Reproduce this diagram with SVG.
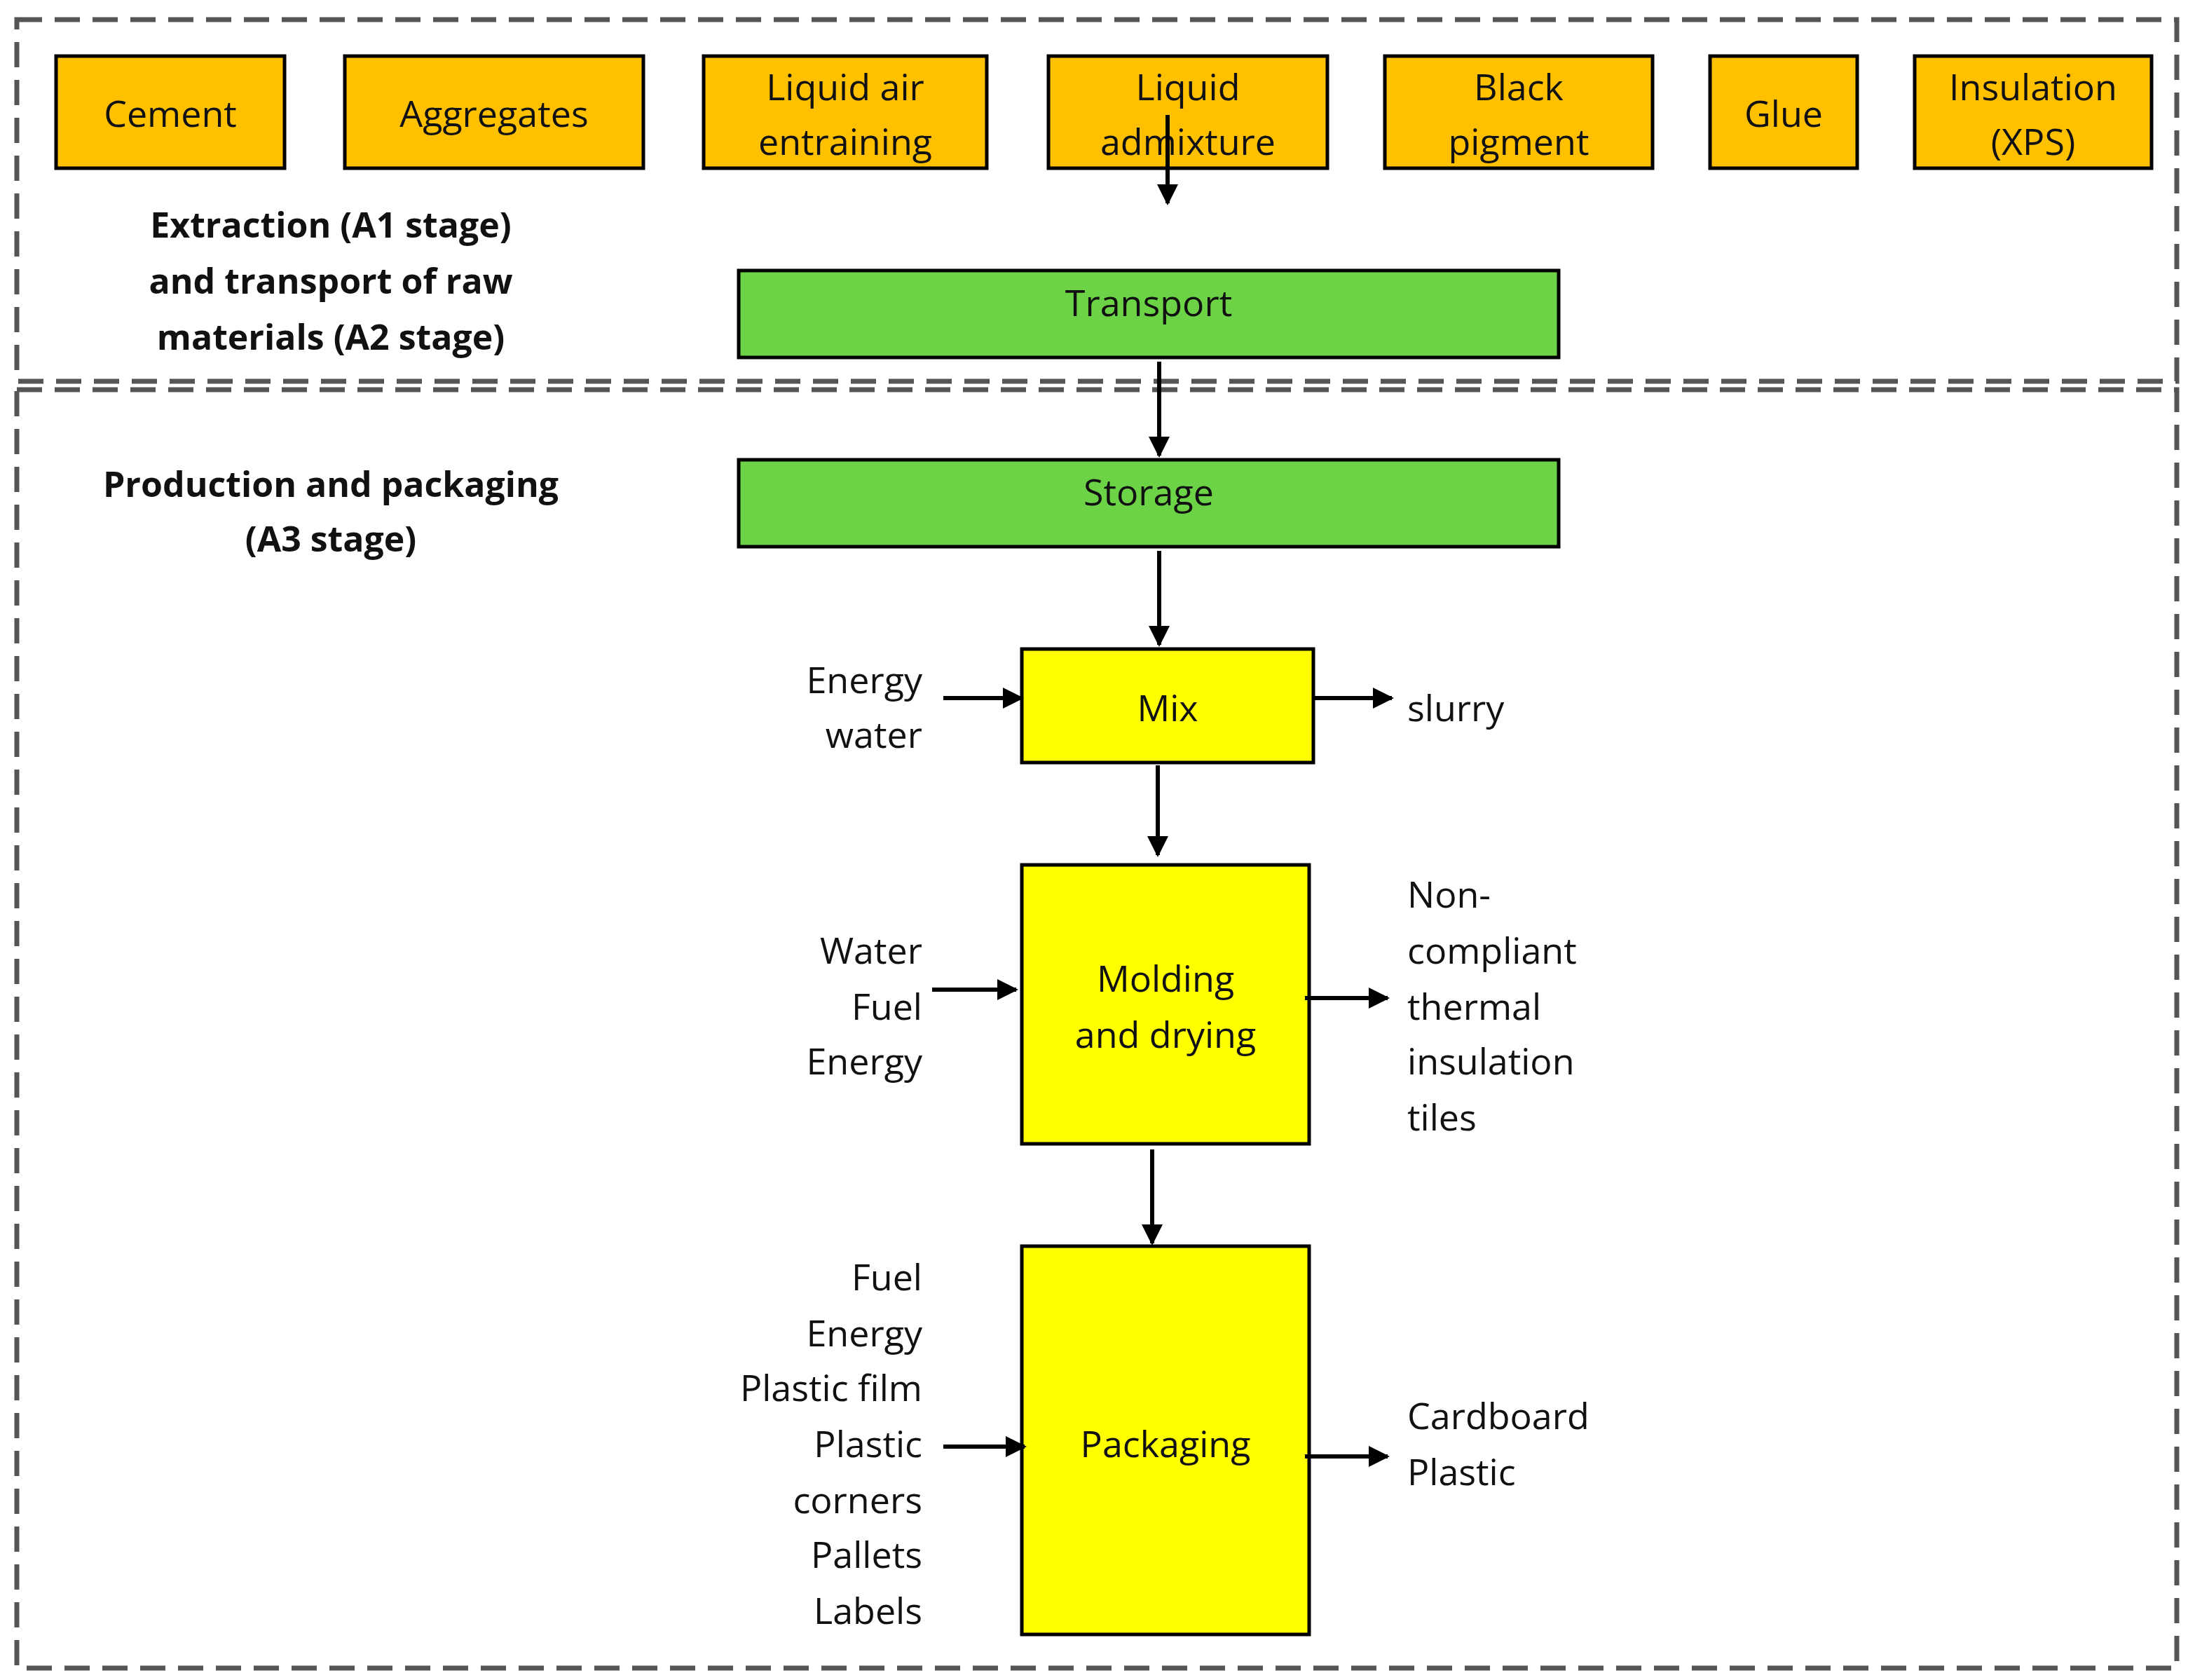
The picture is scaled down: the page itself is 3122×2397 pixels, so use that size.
<svg xmlns="http://www.w3.org/2000/svg" width="3122" height="2397" viewBox="0 0 3122 2397">
<style>
.t{font-family:"Open Sans","Liberation Sans",sans-serif;font-size:52px;fill:#111;dominant-baseline:central}
.b{font-weight:bold;font-size:50px}
.m{text-anchor:middle}.r{text-anchor:end}
.o{fill:#FFC000;stroke:#000;stroke-width:5}
.g{fill:#6CD246;stroke:#000;stroke-width:5}
.y{fill:#FFFF00;stroke:#000;stroke-width:5}
.d{fill:none;stroke:#555;stroke-width:7;stroke-dasharray:36 18}
.a{stroke:#000;stroke-width:6;marker-end:url(#ah)}
</style>
<defs><marker id="ah" viewBox="0 0 10 10" refX="9" refY="5" markerWidth="5" markerHeight="5" orient="auto" markerUnits="strokeWidth"><path d="M0,0L10,5L0,10z" fill="#000"/></marker></defs>
<rect width="3122" height="2397" fill="#fff"/>
<rect class="d" x="24" y="28" width="3082" height="516"/>
<rect class="d" x="24" y="556" width="3082" height="1824"/>
<g id="cement"><rect class="o" x="80" y="80" width="326" height="160"/><text class="t m" x="243" y="160">Cement</text></g>
<g id="aggregates"><rect class="o" x="492" y="80" width="426" height="160"/><text class="t m" x="705" y="160">Aggregates</text></g>
<g id="air"><rect class="o" x="1004" y="80" width="404" height="160"/><text class="t m" x="1206" y="122">Liquid air</text><text class="t m" x="1206" y="200">entraining</text></g>
<g id="admix"><rect class="o" x="1496" y="80" width="398" height="160"/><text class="t m" x="1695" y="122">Liquid</text><text class="t m" x="1695" y="200">admixture</text></g>
<g id="pigment"><rect class="o" x="1976" y="80" width="382" height="160"/><text class="t m" x="2167" y="122">Black</text><text class="t m" x="2167" y="200">pigment</text></g>
<g id="glue"><rect class="o" x="2440" y="80" width="210" height="160"/><text class="t m" x="2545" y="160">Glue</text></g>
<g id="xps"><rect class="o" x="2732" y="80" width="338" height="160"/><text class="t m" x="2901" y="122">Insulation</text><text class="t m" x="2901" y="200">(XPS)</text></g>
<g id="stage1"><text class="t b m" x="472" y="320">Extraction (A1 stage)</text><text class="t b m" x="472" y="400">and transport of raw</text><text class="t b m" x="472" y="480">materials (A2 stage)</text></g>
<g id="stage2"><text class="t b m" x="472" y="690">Production and packaging</text><text class="t b m" x="472" y="768">(A3 stage)</text></g>
<g id="transport"><rect class="g" x="1054" y="386" width="1170" height="124"/><text class="t m" x="1639" y="430">Transport</text></g>
<g id="storage"><rect class="g" x="1054" y="656" width="1170" height="124"/><text class="t m" x="1639" y="700">Storage</text></g>
<g id="mix"><rect class="y" x="1458" y="926" width="416" height="162"/><text class="t m" x="1666" y="1008">Mix</text></g>
<g id="molding"><rect class="y" x="1458" y="1234" width="410" height="398"/><text class="t m" x="1663" y="1394">Molding</text><text class="t m" x="1663" y="1474">and drying</text></g>
<g id="packaging"><rect class="y" x="1458" y="1778" width="410" height="554"/><text class="t m" x="1663" y="2058">Packaging</text></g>
<g id="labels">
<text class="t r" x="1316" y="968">Energy</text><text class="t r" x="1316" y="1046">water</text>
<text class="t" x="2008" y="1008">slurry</text>
<text class="t r" x="1316" y="1354">Water</text><text class="t r" x="1316" y="1434">Fuel</text><text class="t r" x="1316" y="1512">Energy</text>
<text class="t" x="2008" y="1274">Non-</text><text class="t" x="2008" y="1354">compliant</text><text class="t" x="2008" y="1434">thermal</text><text class="t" x="2008" y="1512">insulation</text><text class="t" x="2008" y="1592">tiles</text>
<text class="t r" x="1316" y="1820">Fuel</text><text class="t r" x="1316" y="1900">Energy</text><text class="t r" x="1316" y="1978">Plastic film</text><text class="t r" x="1316" y="2058">Plastic</text><text class="t r" x="1316" y="2138">corners</text><text class="t r" x="1316" y="2216">Pallets</text><text class="t r" x="1316" y="2296">Labels</text>
<text class="t" x="2008" y="2018">Cardboard</text><text class="t" x="2008" y="2098">Plastic</text>
</g>
<g id="connectors">
<line class="a" x1="1666" y1="164" x2="1666" y2="290"/>
<line class="a" x1="1654" y1="516" x2="1654" y2="650"/>
<line class="a" x1="1654" y1="786" x2="1654" y2="920"/>
<line class="a" x1="1346" y1="996" x2="1458" y2="996"/>
<line class="a" x1="1874" y1="996" x2="1986" y2="996"/>
<line class="a" x1="1652" y1="1092" x2="1652" y2="1220"/>
<line class="a" x1="1330" y1="1412" x2="1450" y2="1412"/>
<line class="a" x1="1862" y1="1424" x2="1980" y2="1424"/>
<line class="a" x1="1644" y1="1640" x2="1644" y2="1774"/>
<line class="a" x1="1346" y1="2064" x2="1462" y2="2064"/>
<line class="a" x1="1862" y1="2078" x2="1980" y2="2078"/>
</g>
</svg>
